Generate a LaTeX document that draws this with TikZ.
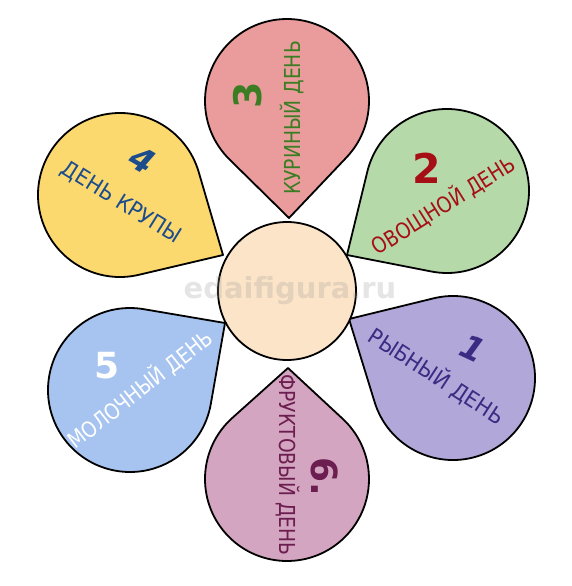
\documentclass[tikz,border=0pt]{standalone}
\usepackage{fontspec}
\setmainfont{DejaVu Sans}
\newfontfamily\lblfont[FakeStretch=0.85]{DejaVu Sans}
\newfontfamily\lblwide[FakeStretch=0.92]{DejaVu Sans}
\usetikzlibrary{calc}
\definecolor{pTop}{HTML}{E99C9B}
\definecolor{pGreen}{HTML}{B6D9A9}
\definecolor{pPurple}{HTML}{B1A7D8}
\definecolor{pBottom}{HTML}{D4A5C0}
\definecolor{pBlue}{HTML}{A6C4EF}
\definecolor{pYellow}{HTML}{FCD96F}
\definecolor{pCenter}{HTML}{FCE4C8}
\definecolor{tGreen}{HTML}{3B7D23}
\definecolor{tRed}{HTML}{A50F15}
\definecolor{tIndigo}{HTML}{3B2B83}
\definecolor{tPlum}{HTML}{6B1E4F}
\definecolor{tNavy}{HTML}{1C4C8C}
\newcommand\drawpetal[3]{%
  \draw[petal, fill=#3] let \p1=($(#2)-(#1)$), \n1={atan2(\y1,\x1)}, \n2={veclen(\x1,\y1)}, \n3={acos(82/\n2)} in
    (#2) -- ($(#1)+({\n1+\n3}:82pt)$) arc[start angle={\n1+\n3}, end angle={\n1+360-\n3}, radius=82pt] -- cycle;}
\begin{document}
\begin{tikzpicture}[x=1pt,y=-1pt,
  petal/.style={draw=black, line width=1.8pt, line join=round},
  lbl/.style={font=\lblfont\fontsize{22}{24}\selectfont, inner sep=0pt},
  lblw/.style={font=\lblwide\fontsize{22}{24}\selectfont, inner sep=0pt},
  num/.style={font=\fontsize{38}{40}\selectfont\bfseries, inner sep=0pt},
  numit/.style={font=\fontsize{33}{35}\selectfont\bfseries\itshape, inner sep=0pt}]
\useasboundingbox (0,0) rectangle (572,586);
\fill[white] (0,0) rectangle (572,586);
% petal centres and tips
\coordinate (c3) at (287,101); \coordinate (k3) at (289,218);
\coordinate (c2) at (447,191); \coordinate (k2) at (347,255);
\coordinate (c1) at (453,378); \coordinate (k1) at (349,319);
\coordinate (c6) at (287,479); \coordinate (k6) at (288,368);
\coordinate (c5) at (130,390); \coordinate (k5) at (225,323);
\coordinate (c4) at (120,195); \coordinate (k4) at (223,255);
\drawpetal{c3}{k3}{pTop}
\drawpetal{c2}{k2}{pGreen}
\drawpetal{c1}{k1}{pPurple}
\drawpetal{c6}{k6}{pBottom}
\drawpetal{c5}{k5}{pBlue}
\drawpetal{c4}{k4}{pYellow}
\node[draw=black, line width=1.8pt, fill=pCenter, circle, minimum size=138pt, inner sep=0pt] (mid) at (287,291) {};
% labels
\node[lbl, text=tGreen, rotate=90] (t3) at (292,118) {КУРИНЫЙ ДЕНЬ};
\node[num, text=tGreen, rotate=90] (n3) at (248,95) {3};
\node[lbl, text=tRed, rotate=32] (t2) at (443,205) {ОВОЩНОЙ ДЕНЬ};
\node[num, text=tRed, font=\fontsize{41}{43}\selectfont\bfseries] (n2) at (427,168) {2};
\node[lblw, text=tIndigo, rotate=-33] (t1) at (437,376) {РЫБНЫЙ ДЕНЬ};
\node[numit, text=tIndigo, rotate=-25] (n1) at (473,348) {1};
\node[lbl, text=tPlum, rotate=-90] (t6) at (288,465) {ФРУКТОВЫЙ ДЕНЬ};
\node[num, text=tPlum, rotate=-90, font=\fontsize{36}{38}\selectfont\bfseries] (n6) at (325,477) {6.};
\node[lbl, text=white, rotate=38] (t5) at (140,389) {МОЛОЧНЫЙ ДЕНЬ};
\node[num, text=white, font=\fontsize{36}{38}\selectfont\bfseries] (n5) at (107,366) {5};
\node[lblw, text=tNavy, rotate=-32] (t4) at (121,203) {ДЕНЬ КРУПЫ};
\node[numit, text=tNavy, rotate=-30] (n4) at (142,160) {4};
\node[font=\fontsize{29}{30}\selectfont\bfseries, text=black!40, opacity=0.25, inner sep=0pt] (wm) at (290,291) {edaifigura.ru};
\end{tikzpicture}
\end{document}
